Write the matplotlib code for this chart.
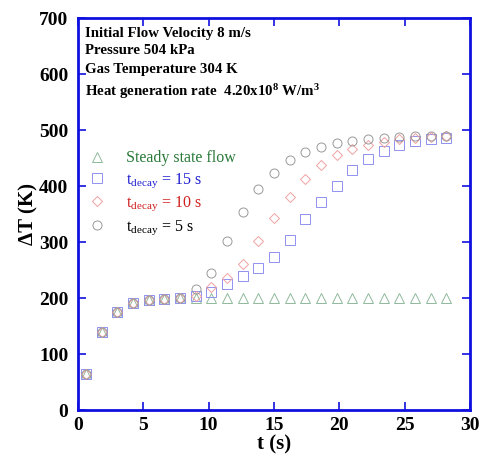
import matplotlib
matplotlib.use("Agg")
import matplotlib.pyplot as plt
from matplotlib.lines import Line2D

plt.rcParams['font.family'] = ['Liberation Serif', 'DejaVu Serif']
plt.rcParams['mathtext.fontset'] = 'custom'
plt.rcParams['mathtext.rm'] = 'Liberation Serif'
plt.rcParams['mathtext.it'] = 'Liberation Serif:italic'
plt.rcParams['mathtext.bf'] = 'Liberation Serif:bold'

# time (s)
t = [0.6 + 1.2 * i for i in range(24)]

steady = [64, 140, 176, 192, 197, 199, 200, 200, 200, 200, 200, 200,
          200, 200, 200, 200, 200, 200, 200, 200, 200, 200, 200, 200]
decay15 = [64, 140, 176, 192, 197, 199, 200, 204, 212, 225, 239, 255,
           274, 304, 341, 372, 401, 429, 449, 463, 474, 481, 484, 487]
decay10 = [64, 140, 176, 192, 197, 199, 200, 205, 221, 237, 261, 303,
           343, 381, 413, 438, 456, 467, 474, 480, 484, 486, 488, 489]
decay5 = [64, 140, 176, 192, 197, 199, 200, 216, 245, 303, 354, 395,
          424, 447, 461, 470, 477, 481, 484, 487, 488, 489, 490, 490]

labels = ["Steady state flow",
          r"t$_{\mathrm{decay}}$ = 15 s",
          r"t$_{\mathrm{decay}}$ = 10 s",
          r"t$_{\mathrm{decay}}$ = 5 s"]
label_colors = ['#2a7a3a', '#2020d0', '#d02020', 'black']

fig = plt.figure(figsize=(4.82, 4.61), dpi=100)
ax = fig.add_axes([78 / 482, 1 - 410.3 / 461, 392 / 482, 392 / 461])

mk = dict(linestyle='none', markerfacecolor='none', markeredgewidth=0.7)
styles = [
    dict(marker='^', markersize=6.5, markeredgecolor='#8fb89a'),
    dict(marker='s', markersize=7.2, markeredgecolor='#9090f0'),
    dict(marker='D', markersize=5, markeredgecolor='#f0a0a0'),
    dict(marker='o', markersize=6.5, markeredgecolor='#999999'),
]
for ys, st in zip([steady, decay15, decay10, decay5], styles):
    ax.plot(t, ys, **st, **mk)

ax.set_xlim(0, 30)
ax.set_ylim(0, 700)
ax.set_xticks(range(0, 31, 5))
ax.set_yticks(range(0, 701, 100))

for s in ax.spines.values():
    s.set_color('#1010e0')
    s.set_linewidth(2)
ax.tick_params(direction='in', length=6, width=1.2, color='#1010e0',
               top=True, right=True, labelsize=14)
ax.tick_params(axis='y', pad=7)
ax.tick_params(axis='x', pad=5)
for lab in ax.get_xticklabels() + ax.get_yticklabels():
    lab.set_fontweight('bold')

ax.set_xlabel('t (s)', fontsize=15, fontweight='bold', labelpad=0)
ax.set_ylabel('ΔT (K)', fontsize=15, fontweight='bold', labelpad=0)

# annotation text
ann = ["Initial Flow Velocity 8 m/s", "Pressure 504 kPa", "Gas Temperature 304 K"]
ypos = [33, 51, 69]
for s_, yp in zip(ann, ypos):
    fig.text(85 / 482, 1 - yp / 461, s_, fontsize=10.7, fontweight='bold',
             va='center', ha='left')
fig.text(85 / 482, 1 - 92 / 461,
         r"Heat generation rate  4.20x10$^{\mathbf{8}}$ W/m$^{\mathbf{3}}$",
         fontsize=10.7, fontweight='bold', va='center', ha='left')

# legend
handles = [Line2D([], [], **st, **mk) for st in styles]
leg = ax.legend(handles, labels, loc='upper left',
                bbox_to_anchor=(0.0, (410.3 - 144) / 392), frameon=False,
                fontsize=11.5, handletextpad=1.0, handlelength=1.6,
                labelspacing=0.3,
                labelcolor=label_colors, borderaxespad=0)

fig.savefig('out.png', dpi=100)
